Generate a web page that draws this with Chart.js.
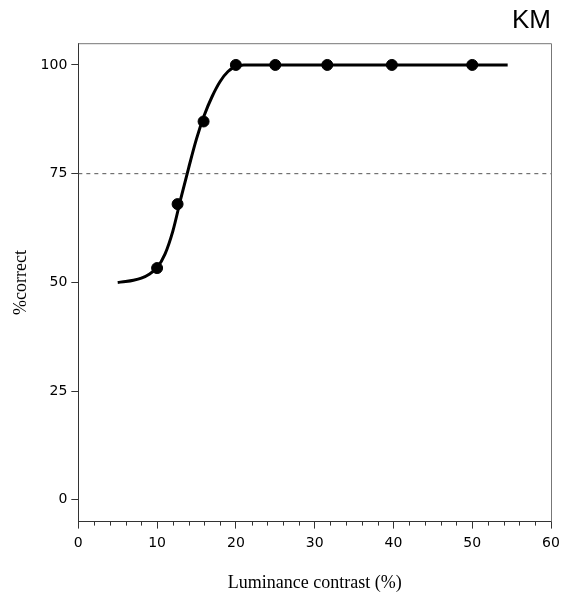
<!DOCTYPE html>
<html lang="en">
<head>
    <meta charset="UTF-8">
    <title>KM - Luminance contrast</title>
    <style>
        html, body {
            margin: 0;
            padding: 0;
            background: white;
            overflow: hidden;
        }
        .wrap {
            width: 570px;
            height: 596px;
        }
    </style>
    <script src="https://cdn.jsdelivr.net/npm/chart.js@4.4.1/dist/chart.umd.min.js"></script>
</head>
<body>
    <div class="wrap"><canvas id="chart" width="570" height="596"></canvas></div>
    <script>
        // measured points (% correct vs luminance contrast)
        const contrast = [10, 12.6, 15.9, 20, 25, 31.6, 39.8, 50];
        const pctCorrect = [53.3, 68, 87, 100, 100, 100, 100, 100];

        // fitted curve
        const fitX = [5, 6, 7, 8, 9, 10, 11, 12, 13, 14, 15, 16, 17, 18, 19, 20, 21, 54.5];
        const fitY = [50, 50.2, 50.5, 51, 51.9, 53.4, 56.5, 61.8, 69.2, 76.3, 83, 88.5, 92.8, 96.2, 98.5, 99.6, 100, 100];

        // 75% threshold line
        const threshX = [0, 60];
        const threshY = [75, 75];

        const yTicks = [0, 25, 50, 75, 100];

        const toXY = (xs, ys) => xs.map((x, i) => ({ x: x, y: ys[i] }));

        // draws top/right frame and minor x ticks
        const framePlugin = {
            id: 'frame',
            afterDraw(chart) {
                const ctx = chart.ctx;
                const a = chart.chartArea;
                const xs = chart.scales.x;
                ctx.save();
                ctx.strokeStyle = '#777';
                ctx.lineWidth = 1;
                ctx.beginPath();
                ctx.moveTo(a.left, a.top + 0.5);
                ctx.lineTo(a.right + 0.5, a.top + 0.5);
                ctx.lineTo(a.right + 0.5, a.bottom);
                ctx.stroke();

                ctx.strokeStyle = '#333';
                ctx.beginPath();
                for (let v = 2; v < 60; v += 2) {
                    if (v % 10 === 0) continue;
                    const px = Math.round(xs.getPixelForValue(v)) + 0.5;
                    ctx.moveTo(px, a.bottom);
                    ctx.lineTo(px, a.bottom + 4);
                }
                ctx.stroke();
                ctx.restore();
            }
        };

        new Chart(document.getElementById('chart'), {
            type: 'scatter',
            data: {
                datasets: [
                    {
                        label: 'threshold',
                        data: toXY(threshX, threshY),
                        showLine: true,
                        borderColor: '#555',
                        borderWidth: 1,
                        borderDash: [4, 4],
                        pointRadius: 0
                    },
                    {
                        label: 'fit',
                        data: toXY(fitX, fitY),
                        showLine: true,
                        borderColor: '#000',
                        borderWidth: 3,
                        cubicInterpolationMode: 'monotone',
                        pointRadius: 0
                    },
                    {
                        label: 'data',
                        data: toXY(contrast, pctCorrect),
                        showLine: false,
                        backgroundColor: '#000',
                        borderColor: '#000',
                        pointRadius: 5.5,
                        pointHoverRadius: 5.5
                    }
                ]
            },
            options: {
                responsive: false,
                animation: false,
                layout: {
                    padding: { left: 10, right: 19, top: 0, bottom: 2 }
                },
                plugins: {
                    legend: { display: false },
                    tooltip: { enabled: false },
                    title: {
                        display: true,
                        text: 'KM',
                        align: 'end',
                        color: '#000',
                        font: { family: 'Liberation Sans', size: 26, weight: 'normal' },
                        padding: { top: 5, bottom: 7 }
                    }
                },
                scales: {
                    x: {
                        type: 'linear',
                        min: 0,
                        max: 60,
                        ticks: {
                            stepSize: 10,
                            color: '#000',
                            padding: 6,
                            font: { family: 'DejaVu Sans', size: 14 }
                        },
                        grid: {
                            drawOnChartArea: false,
                            tickLength: 7,
                            tickColor: '#333'
                        },
                        border: { color: '#333', width: 1 },
                        title: {
                            display: true,
                            text: 'Luminance contrast (%)',
                            color: '#000',
                            font: { family: 'Liberation Serif', size: 18 },
                            padding: { top: 15, bottom: 0 }
                        }
                    },
                    y: {
                        type: 'linear',
                        min: -5,
                        max: 105,
                        afterBuildTicks(scale) {
                            scale.ticks = yTicks.map(v => ({ value: v }));
                        },
                        ticks: {
                            color: '#000',
                            padding: 4,
                            font: { family: 'DejaVu Sans', size: 14 }
                        },
                        grid: {
                            drawOnChartArea: false,
                            tickLength: 7,
                            tickColor: '#333'
                        },
                        border: { color: '#333', width: 1 },
                        title: {
                            display: true,
                            text: '%correct',
                            color: '#000',
                            font: { family: 'Liberation Serif', size: 18 },
                            padding: { top: 0, bottom: 5 }
                        }
                    }
                }
            },
            plugins: [framePlugin]
        });
    </script>
</body>
</html>
